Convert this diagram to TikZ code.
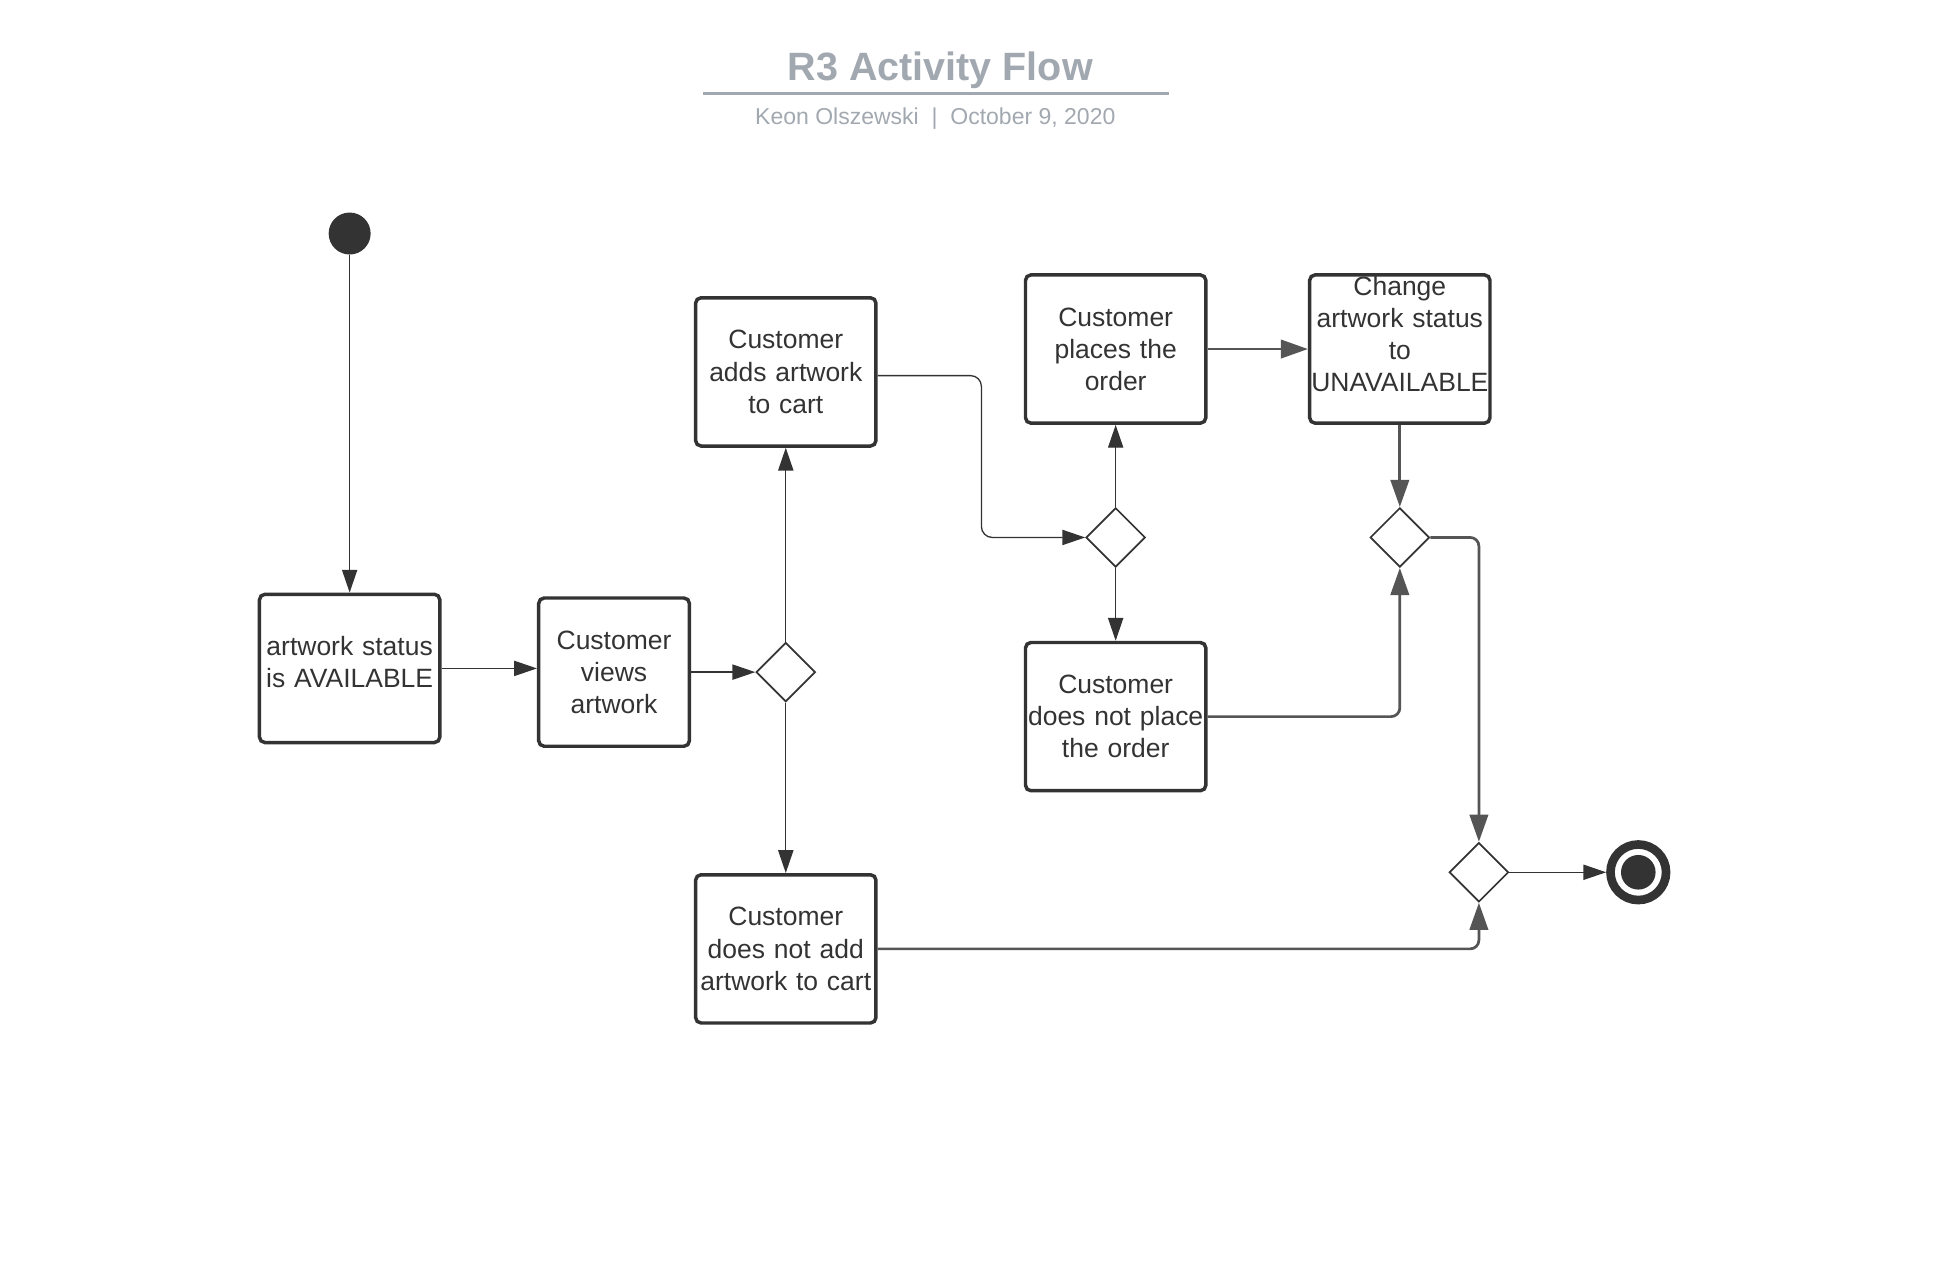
\documentclass[tikz,border=0pt]{standalone}
\usepackage{fontspec}
\setmainfont{Liberation Sans}
\usetikzlibrary{arrows.meta,calc,shapes.geometric}
\definecolor{ink}{HTML}{333333}
\definecolor{wire}{HTML}{555555}
\definecolor{headgray}{HTML}{A2A8B0}
\tikzset{
	actbox/.style={draw=ink, line width=1.6pt, rounded corners=2.5pt, text=ink, text width=2.92cm, minimum height=2.4cm, inner sep=0pt, align=center, font=\fontsize{12.2}{14.8}\selectfont},
	choice/.style={diamond, draw=ink, line width=0.8pt, fill=white, minimum width=0.96cm, minimum height=0.96cm, inner sep=0pt},
	thinflow/.style={draw=ink, line width=0.6pt, rounded corners=5pt, -{Triangle[length=10.5pt,width=7pt]}},
	thickflow/.style={draw=wire, line width=1.25pt, rounded corners=4pt, -{Triangle[length=12.5pt,width=8.5pt]}},
}

\begin{document}
\begin{tikzpicture}[x=0.02cm, y=-0.02cm]
		%%%%% START %%%%%
		\useasboundingbox (0, 0) rectangle (1568.6, 1021.4);
		
		\node[anchor=base, text=headgray, font=\fontsize{18.2}{22}\selectfont\bfseries] (title) at (761, 65) {R3 Activity Flow};
		\draw[headgray, line width=1.3pt] (569, 76) -- (946, 76);
		\node[anchor=base, text=headgray, font=\fontsize{10.6}{13}\selectfont] (byline) at (757, 101) {Keon Olszewski~~|~~October 9, 2020};
		
		\node[circle, fill=ink, minimum size=0.68cm, inner sep=0pt] (start) at (283, 189) {};
		\node[actbox] (avail) at (283, 541) {\raisebox{0.06cm}[\height][\depth]{\begin{tabular}{@{}c@{}}artwork status\\is AVAILABLE\end{tabular}}};
		\node[actbox, text width=2.44cm] (views) at (497, 544) {Customer\\views\\artwork};
		\node[choice] (d1) at (636, 544) {};
		\node[actbox] (adds) at (636, 301) {Customer\\adds artwork\\to cart};
		\node[actbox] (noadd) at (636, 768) {Customer\\does not add\\artwork to cart};
		
		\node[choice] (d2) at (903, 435) {};
		\node[actbox] (place) at (903, 282.5) {Customer\\places the\\order};
		\node[actbox] (noplace) at (903, 580) {Customer\\does not place\\the order};
		\node[actbox] (unavail) at (1133, 282.5) {\raisebox{0.19cm}[\height][\depth]{\begin{tabular}{@{}c@{}}Change\\artwork status\\to\\UNAVAILABLE\end{tabular}}};
		
		\node[choice] (d3) at (1133, 435) {};
		\node[choice] (d4) at (1197, 706) {};
		\node[circle, draw=ink, line width=0.14cm, fill=white, minimum size=0.9cm, inner sep=0pt] (final) at (1326, 706) {};
		\fill[ink] (final) circle (0.28cm);
		
		\draw[thinflow] (start) -- (avail);
		\draw[thinflow] (avail.east) -- (avail.east -| views.west);
		\draw[thinflow] (views.east) -- (d1.west);
		\draw[thinflow] (d1.north) -- (adds.south);
		\draw[thinflow] (d1.south) -- (noadd.north);
		\draw[thinflow] ([yshift=-0.06cm]adds.east) -| ($(adds.east)!0.5!(d2.west)$) |- (d2.west);
		\draw[thinflow] (d2.north) -- (place.south);
		\draw[thinflow] (d2.south) -- (noplace.north);
		
		\draw[thickflow] (place.east) -- (unavail.west);
		\draw[thickflow] (unavail.south) -- (d3.north);
		\draw[thickflow] (noplace.east) -| (d3.south);
		\draw[thickflow] (d3.east) -| (d4.north);
		\draw[thickflow] (noadd.east) -| (d4.south);
		\draw[thinflow] (d4.east) -- (final.west);
		
		%%%%% END %%%%%
	\end{tikzpicture}
\end{document}
